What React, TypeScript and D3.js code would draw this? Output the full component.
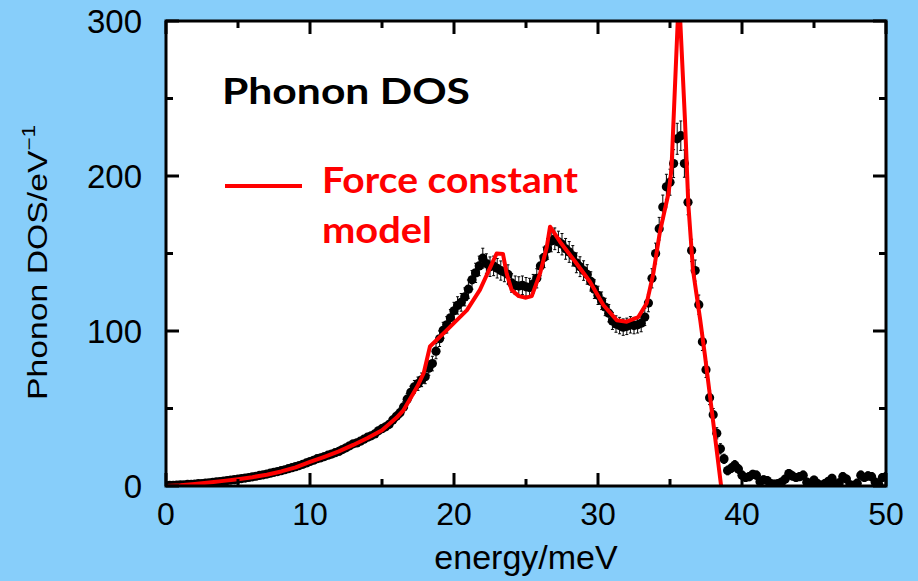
import React from "react";
import * as d3 from "d3";

// Measured phonon DOS (states per eV) on a 0.25 meV energy grid
const energy = [
  0, 0.25, 0.5, 0.75, 1, 1.25, 1.5, 1.75,
  2, 2.25, 2.5, 2.75, 3, 3.25, 3.5, 3.75,
  4, 4.25, 4.5, 4.75, 5, 5.25, 5.5, 5.75,
  6, 6.25, 6.5, 6.75, 7, 7.25, 7.5, 7.75,
  8, 8.25, 8.5, 8.75, 9, 9.25, 9.5, 9.75,
  10, 10.25, 10.5, 10.75, 11, 11.25, 11.5, 11.75,
  12, 12.25, 12.5, 12.75, 13, 13.25, 13.5, 13.75,
  14, 14.25, 14.5, 14.75, 15, 15.25, 15.5, 15.75,
  16, 16.25, 16.5, 16.75, 17, 17.25, 17.5, 17.75,
  18, 18.25, 18.5, 18.75, 19, 19.25, 19.5, 19.75,
  20, 20.25, 20.5, 20.75, 21, 21.25, 21.5, 21.75,
  22, 22.25, 22.5, 22.75, 23, 23.25, 23.5, 23.75,
  24, 24.25, 24.5, 24.75, 25, 25.25, 25.5, 25.75,
  26, 26.25, 26.5, 26.75, 27, 27.25, 27.5, 27.75,
  28, 28.25, 28.5, 28.75, 29, 29.25, 29.5, 29.75,
  30, 30.25, 30.5, 30.75, 31, 31.25, 31.5, 31.75,
  32, 32.25, 32.5, 32.75, 33, 33.25, 33.5, 33.75,
  34, 34.25, 34.5, 34.75, 35, 35.25, 35.5, 35.75,
  36, 36.25, 36.5, 36.75, 37, 37.25, 37.5, 37.75,
  38, 38.25, 38.5, 38.75, 39, 39.25, 39.5, 39.75,
  40, 40.25, 40.5, 40.75, 41, 41.25, 41.5, 41.75,
  42, 42.25, 42.5, 42.75, 43, 43.25, 43.5, 43.75,
  44, 44.25, 44.5, 44.75, 45, 45.25, 45.5, 45.75,
  46, 46.25, 46.5, 46.75, 47, 47.25, 47.5, 47.75,
  48, 48.25, 48.5, 48.75, 49, 49.25, 49.5, 49.75,
  50,
];

const dos = [
  0.3, 0.4, 0.5, 0.6, 0.7, 0.8, 1.0, 1.1,
  1.3, 1.5, 1.6, 1.9, 2.1, 2.4, 2.6, 2.9,
  3.2, 3.5, 3.8, 4.1, 4.4, 4.8, 5.1, 5.5,
  5.9, 6.3, 6.8, 7.2, 7.7, 8.3, 8.8, 9.3,
  9.9, 10.5, 11.2, 11.8, 12.5, 13.2, 14.0, 14.9,
  15.8, 16.6, 17.6, 18.2, 19.0, 19.9, 20.6, 21.5,
  22.3, 23.5, 24.6, 25.9, 27.2, 27.8, 28.9, 30.2,
  31.5, 32.4, 33.6, 35.6, 37.0, 38.2, 39.8, 42.6,
  45.0, 47.3, 51.0, 56.0, 60.5, 64.0, 66.0, 68.5,
  70.5, 76.0, 79.0, 87.0, 95.0, 100.5, 104.0, 108.5,
  113.0, 116.5, 118.5, 122.0, 127.0, 133.0, 137.5, 142.0,
  147.0, 143.5, 141.5, 142.0, 140.5, 139.0, 138.0, 136.5,
  131.0, 129.5, 129.0, 129.5, 128.5, 128.0, 130.5, 134.0,
  142.0, 147.5, 153.0, 158.0, 159.5, 157.5, 156.0, 153.0,
  151.0, 148.5, 144.0, 141.5, 139.0, 136.5, 132.0, 127.0,
  123.0, 119.5, 115.5, 111.5, 106.5, 104.5, 103.5, 102.5,
  103.0, 104.0, 103.5, 104.0, 105.0, 109.0, 118.0, 134.0,
  150.0, 166.0, 180.0, 193.0, 196.0, 208.0, 224.0, 226.0,
  208.0, 183.0, 152.0, 139.0, 117.0, 93.0, 75.0, 57.0,
  46.0, 34.0, 24.0, 17.5, 10.0, 11.5, 13.5, 11.0,
  7.0, 5.5, 6.0, 7.5, 7.0, 2.8, 4.0, 3.5,
  1.5, 1.2, 1.5, 2.5, 4.5, 8.0, 6.5, 5.5,
  6.0, 7.0, 2.5, 1.5, 3.8, 1.5, 0.5, 1.5,
  3.0, 5.0, 1.2, 2.0, 6.0, 4.5, 0.8, 0.5,
  1.8, 7.0, 5.5, 6.5, 6.0, 2.5, 1.0, 5.5,
  6.0,
];

const dosErr = [
  0.5, 0.5, 0.5, 0.5, 0.5, 0.5, 0.5, 0.5,
  0.6, 0.6, 0.6, 0.6, 0.7, 0.7, 0.7, 0.7,
  0.8, 0.8, 0.8, 0.8, 0.9, 0.9, 0.9, 0.9,
  1.0, 1.0, 1.0, 1.0, 1.1, 1.1, 1.1, 1.1,
  1.2, 1.2, 1.2, 1.3, 1.3, 1.3, 1.4, 1.4,
  1.5, 1.5, 1.5, 1.6, 1.6, 1.6, 1.7, 1.7,
  1.8, 1.8, 1.9, 1.9, 2.0, 2.0, 2.1, 2.1,
  2.2, 2.2, 2.3, 2.3, 2.4, 2.4, 2.5, 2.5,
  2.8, 3.0, 3.3, 3.6, 3.9, 4.1, 4.3, 4.4,
  4.5, 4.6, 4.7, 4.9, 5.0, 5.1, 5.3, 5.4,
  5.5, 5.6, 5.7, 5.8, 5.9, 6.0, 6.2, 6.3,
  6.4, 6.3, 6.3, 6.3, 6.3, 6.2, 6.2, 6.2,
  6.0, 6.0, 6.0, 6.0, 6.0, 6.0, 6.0, 6.2,
  6.4, 6.6, 6.7, 6.9, 7.0, 6.9, 6.9, 6.7,
  6.7, 6.6, 6.4, 6.4, 6.3, 6.3, 6.2, 6.0,
  5.9, 5.7, 5.6, 5.6, 5.5, 5.3, 5.3, 5.3,
  5.3, 5.3, 5.3, 5.3, 5.5, 5.5, 5.6, 6.2,
  6.7, 7.3, 7.7, 8.1, 8.4, 9.0, 10.0, 9.5,
  8.8, 8.0, 7.2, 6.8, 6.2, 5.6, 5.0, 4.5,
  4.0, 3.6, 3.3, 3.0, 2.8, 2.8, 2.9, 2.8,
  2.6, 2.6, 2.6, 2.6, 2.6, 2.5, 2.5, 2.5,
  2.5, 2.5, 2.5, 2.5, 2.5, 2.6, 2.6, 2.5,
  2.5, 2.6, 2.5, 2.5, 2.5, 2.5, 2.5, 2.5,
  2.5, 2.5, 2.5, 2.5, 2.6, 2.5, 2.5, 2.5,
  2.5, 2.6, 2.5, 2.6, 2.6, 2.5, 2.5, 2.5,
  2.6,
];

// Force constant model curve
const modelEnergy = [
  0, 1, 2, 3, 4, 5, 6, 7, 8, 9, 10, 11, 12, 13, 14, 15, 16, 16.5, 17, 17.5,
  17.9, 18.33, 19.5, 20.9, 21.8, 22.96, 23.4, 23.66, 24.0, 24.5, 25.0, 25.4,
  25.97, 26.44, 26.67, 27.36, 28.5, 29.44, 30.37, 31.3, 32.0, 32.8, 33.38,
  33.84, 34.3, 34.9, 35.1, 35.62, 36.04, 36.27, 36.6, 37.1, 37.43, 38.55,
];
const modelDos = [
  0, 0.5, 1.3, 2.3, 3.3, 4.4, 5.7, 7.3, 9.4, 12.0, 15.5, 18.8, 22.3, 26.5, 31.0, 36.0, 44.0, 49.0, 57.0, 65.0,
  73.0, 90.0, 100.6, 113.5, 126.5, 150.0, 149.7, 137.0, 126.5, 122.5, 121.5, 122.5,
  137.0, 154.0, 167.3, 157.6, 143.7, 131.8, 116.8, 107.0, 106.0, 109.0, 117.9,
  137.0, 164.0, 189.0, 204.0, 318.0, 236.0, 182.0, 139.0, 107.0, 84.0, 0,
];

const xTicks = [0, 10, 20, 30, 40, 50];
const yTicks = [0, 100, 200, 300];
const xMinorTicks = [5, 15, 25, 35, 45];
const yMinorTicks = [50, 150, 250];

const W = 918;
const H = 581;
const plot = { left: 166, right: 886, top: 21, bottom: 486 };
const RED = "#ff0000";
const BG = "#87cefa";

export default function App() {
  const x = d3.scaleLinear().domain([0, 50]).range([plot.left, plot.right]);
  const y = d3.scaleLinear().domain([0, 300]).range([plot.bottom, plot.top]);

  const points = energy.map((e, i) => ({ e, d: dos[i], err: dosErr[i] }));
  const model = modelEnergy.map((e, i) => ({ e, d: modelDos[i] }));

  const modelLine = d3
    .line<{ e: number; d: number }>()
    .x((p) => x(p.e))
    .y((p) => y(p.d));

  const axisFont = "'Liberation Sans', Arial, sans-serif";
  const titleFont = "Lato, 'Open Sans', sans-serif";
  const major = 13;
  const minor = 7;

  return (
    <svg
      width={W}
      height={H}
      style={{ position: "absolute", left: 0, top: 0, display: "block" }}
    >
      <defs>
        <clipPath id="plotClip">
          <rect
            x={plot.left}
            y={plot.top}
            width={plot.right - plot.left}
            height={plot.bottom - plot.top}
          />
        </clipPath>
      </defs>
      <rect x={0} y={0} width={W} height={H} fill={BG} />
      <rect
        x={plot.left}
        y={plot.top}
        width={plot.right - plot.left}
        height={plot.bottom - plot.top}
        fill="#ffffff"
      />

      {/* measured points with error bars */}
      <g clipPath="url(#plotClip)">
        {points.map((p, i) => {
          const cx = x(p.e);
          const top = y(p.d + p.err);
          const bot = y(p.d - p.err);
          return (
            <g key={i}>
              <line x1={cx} x2={cx} y1={top} y2={bot} stroke="#000" strokeWidth={1} />
              <line x1={cx - 1.5} x2={cx + 1.5} y1={top} y2={top} stroke="#000" strokeWidth={1} />
              <line x1={cx - 1.5} x2={cx + 1.5} y1={bot} y2={bot} stroke="#000" strokeWidth={1} />
            </g>
          );
        })}
        {points.map((p, i) => (
          <circle key={i} cx={x(p.e)} cy={y(p.d)} r={4.6} fill="#000" />
        ))}
        <path
          d={modelLine(model) || ""}
          fill="none"
          stroke={RED}
          strokeWidth={4}
          strokeLinejoin="round"
        />
      </g>

      {/* frame and ticks */}
      <rect
        x={plot.left}
        y={plot.top}
        width={plot.right - plot.left}
        height={plot.bottom - plot.top}
        fill="none"
        stroke="#000"
        strokeWidth={3}
      />
      {xTicks.map((t) => (
        <g key={"xt" + t}>
          <line x1={x(t)} x2={x(t)} y1={plot.bottom} y2={plot.bottom - major} stroke="#000" strokeWidth={3} />
          <line x1={x(t)} x2={x(t)} y1={plot.top} y2={plot.top + major} stroke="#000" strokeWidth={3} />
        </g>
      ))}
      {xMinorTicks.map((t) => (
        <g key={"xm" + t}>
          <line x1={x(t)} x2={x(t)} y1={plot.bottom} y2={plot.bottom - minor} stroke="#000" strokeWidth={3} />
          <line x1={x(t)} x2={x(t)} y1={plot.top} y2={plot.top + minor} stroke="#000" strokeWidth={3} />
        </g>
      ))}
      {yTicks.map((t) => (
        <g key={"yt" + t}>
          <line x1={plot.left} x2={plot.left + major} y1={y(t)} y2={y(t)} stroke="#000" strokeWidth={3} />
          <line x1={plot.right} x2={plot.right - major} y1={y(t)} y2={y(t)} stroke="#000" strokeWidth={3} />
        </g>
      ))}
      {yMinorTicks.map((t) => (
        <g key={"ym" + t}>
          <line x1={plot.left} x2={plot.left + minor} y1={y(t)} y2={y(t)} stroke="#000" strokeWidth={3} />
          <line x1={plot.right} x2={plot.right - minor} y1={y(t)} y2={y(t)} stroke="#000" strokeWidth={3} />
        </g>
      ))}

      {/* tick labels */}
      {xTicks.map((t) => (
        <text
          key={"xl" + t}
          x={x(t)}
          y={525}
          textAnchor="middle"
          fontFamily={axisFont}
          fontSize={32}
          fill="#000"
        >
          {t}
        </text>
      ))}
      {yTicks.map((t) => (
        <text
          key={"yl" + t}
          x={142}
          y={y(t) + 12}
          textAnchor="end"
          fontFamily={axisFont}
          fontSize={33}
          fill="#000"
        >
          {t}
        </text>
      ))}

      {/* axis titles */}
      <text
        x={(plot.left + plot.right) / 2}
        y={569}
        textAnchor="middle"
        fontFamily={axisFont}
        fontSize={34}
        fill="#000"
      >
        energy/meV
      </text>
      <text
        transform="translate(47,400) rotate(-90) scale(1.25,1)"
        fontFamily={axisFont}
        fontSize={27}
        fill="#000"
      >
        Phonon DOS/eV
        <tspan dy={-12} fontSize={18}>
          −1
        </tspan>
      </text>

      {/* in-plot annotations */}
      <text
        x={222}
        y={104}
        fontFamily={titleFont}
        fontWeight={700}
        fontSize={37}
        fill="#000"
        textLength={248}
        lengthAdjust="spacingAndGlyphs"
      >
        Phonon DOS
      </text>
      <line x1={225} x2={302} y1={186} y2={186} stroke={RED} strokeWidth={4} />
      <text
        x={322}
        y={193}
        fontFamily={titleFont}
        fontWeight={700}
        fontSize={36}
        fill={RED}
        textLength={256}
        lengthAdjust="spacingAndGlyphs"
      >
        Force constant
      </text>
      <text
        x={322}
        y={243}
        fontFamily={titleFont}
        fontWeight={700}
        fontSize={36}
        fill={RED}
        textLength={110}
        lengthAdjust="spacingAndGlyphs"
      >
        model
      </text>
    </svg>
  );
}
